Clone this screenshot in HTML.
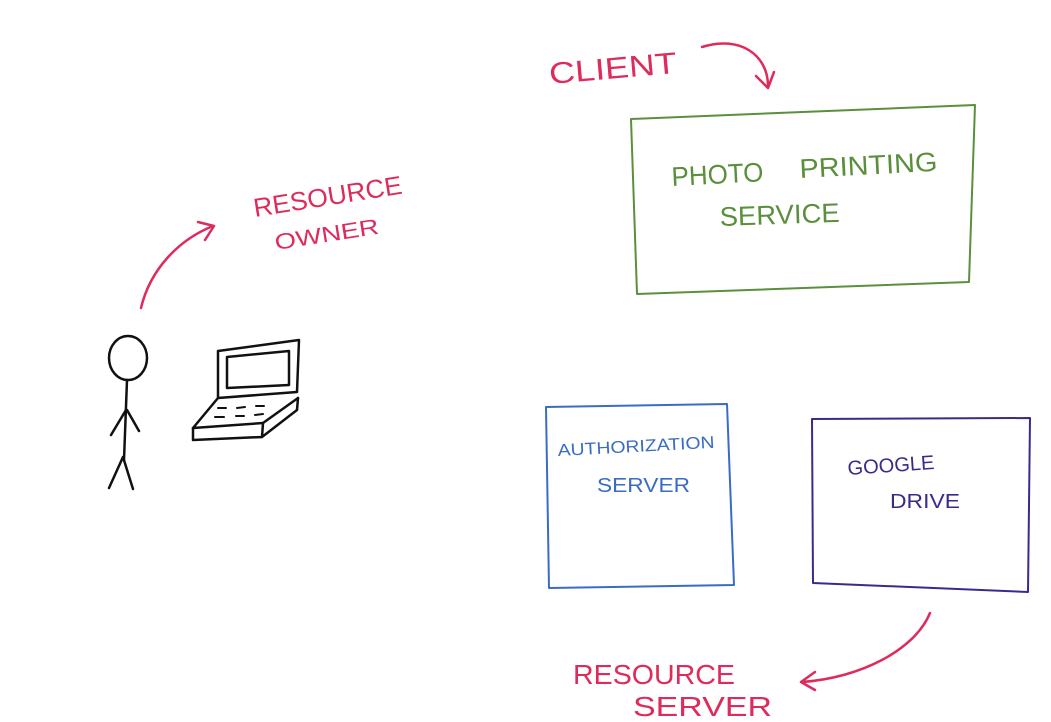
<!DOCTYPE html>
<html><head><meta charset="utf-8"><style>
html,body{margin:0;padding:0;background:#fff;}
svg{display:block}
text{font-family:"Liberation Sans",sans-serif;}
</style></head><body>
<svg width="1051" height="722" viewBox="0 0 1051 722" xmlns="http://www.w3.org/2000/svg">
<g fill="none" stroke-linecap="round" stroke-linejoin="round">
<g stroke="#dd2c5c" stroke-width="2.5">
<path d="M702,47 C740,35 768,55 768,86"/><path d="M756,76 L768,88 L774,72"/>
<path d="M141,308 C150,270 178,240 213,226"/><path d="M198,222 L214,226 L205,240"/>
<path d="M930,613 C915,650 860,678 802,682"/><path d="M815,672 L801,682 L815,690"/>
</g>
<path d="M631,119 L975,105 L969,282 L637,294 Z" stroke="#5a8f3c" stroke-width="2"/>
<path d="M546,407 L727,404 L734,585 L549,588 Z" stroke="#3a6cc4" stroke-width="2"/>
<path d="M812,419 L1030,418 L1028,592 L813,583 Z" stroke="#3b2a8a" stroke-width="2"/>
<g stroke="#111" stroke-width="2.5">
<ellipse cx="128" cy="358" rx="19" ry="22"/>
<path d="M127,380 L124,460"/>
<path d="M126,410 L111,435 M127,410 L139,431"/>
<path d="M123,457 L109,488 M123,457 L133,489"/>
<path d="M218,351 L299,340 L297,392 L218,398 Z"/>
<path d="M227,357 L289,351 L289,385 L227,388 Z"/>
<path d="M218,398 L193,428 L263,423 L298,398"/>
<path d="M193,428 L193,440 L262,437 L263,423 M262,437 L297,410 L298,398"/>
<path d="M218,408 L226,408 M237,408 L245,407 M256,406 L264,406 M215,417 L224,417 M236,416 L244,416 M255,415 L263,414" stroke-width="2"/>
</g>
</g>
<g fill="#dd2c5c" font-size="30">
<text x="550" y="84" transform="rotate(-5 550 84)" textLength="128" lengthAdjust="spacingAndGlyphs">CLIENT</text>
<text x="255" y="217" transform="rotate(-9 255 217)" font-size="26" textLength="150" lengthAdjust="spacingAndGlyphs">RESOURCE</text>
<text x="276" y="250" transform="rotate(-9 276 250)" font-size="22" textLength="105" lengthAdjust="spacingAndGlyphs">OWNER</text>
<text x="573" y="684" font-size="28" textLength="162" lengthAdjust="spacingAndGlyphs">RESOURCE</text>
<text x="633" y="716" font-size="28" textLength="139" lengthAdjust="spacingAndGlyphs">SERVER</text>
</g>
<g fill="#5a8f3c" font-size="27">
<text x="672" y="186" transform="rotate(-3 672 186)" textLength="92" lengthAdjust="spacingAndGlyphs">PHOTO</text>
<text x="800" y="178" transform="rotate(-3 800 178)" textLength="138" lengthAdjust="spacingAndGlyphs">PRINTING</text>
<text x="720" y="226" transform="rotate(-2 720 226)" textLength="120" lengthAdjust="spacingAndGlyphs">SERVICE</text>
</g>
<g fill="#3a6cc4" font-size="17">
<text x="558" y="456" transform="rotate(-3 558 456)" textLength="157" lengthAdjust="spacingAndGlyphs">AUTHORIZATION</text>
<text x="597" y="492" font-size="20" textLength="93" lengthAdjust="spacingAndGlyphs">SERVER</text>
</g>
<g fill="#3b2a8a" font-size="20">
<text x="848" y="475" transform="rotate(-4 848 475)" textLength="87" lengthAdjust="spacingAndGlyphs">GOOGLE</text>
<text x="890" y="508" textLength="70" lengthAdjust="spacingAndGlyphs">DRIVE</text>
</g>
</svg>
</body></html>
